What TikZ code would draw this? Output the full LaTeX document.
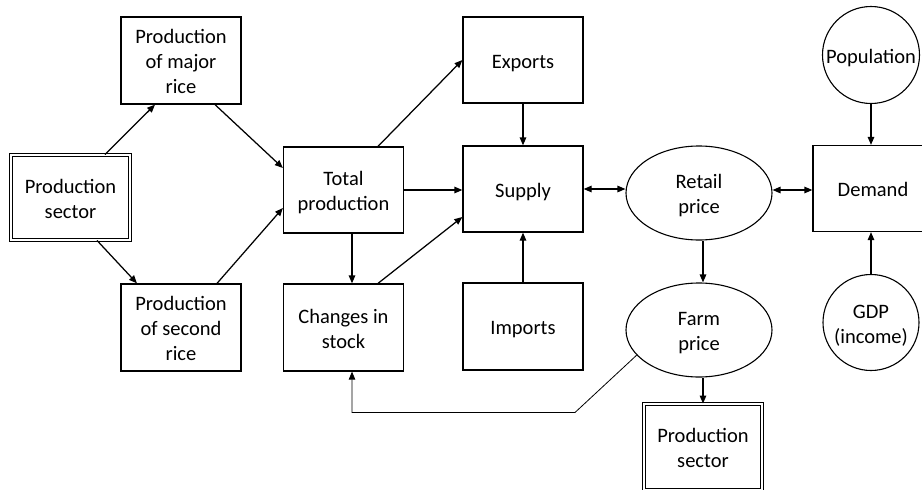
\documentclass[tikz,border=0pt]{standalone}
\usepackage{fontspec}
\setmainfont{Carlito}
\usetikzlibrary{shapes.geometric,arrows.meta}
\newcommand{\fs}{\rule{0pt}{22pt}}
\newcommand{\ls}{\rule[-6pt]{0pt}{6pt}}
\begin{document}
\begin{tikzpicture}[x=1pt,y=-1pt,
  every node/.style={font=\fontsize{20.5}{25}\selectfont, align=center, inner sep=0pt},
  box/.style={draw, line width=1.25pt, minimum width=120pt, minimum height=86pt},
  dbox/.style={draw, line width=0.9pt, double, double distance=2.2pt, minimum width=119pt, minimum height=85pt},
  ell/.style={draw, ellipse, line width=1.1pt, minimum width=146pt, minimum height=94pt},
  circ/.style={draw, circle, line width=1.1pt, minimum size=97pt},
  arr/.style={line width=1.25pt, -{Triangle[length=8pt,width=6.5pt]}},
  darr/.style={line width=1.25pt, {Triangle[length=8pt,width=6.5pt]}-{Triangle[length=8pt,width=6.5pt]}},
  fb/.style={line width=0.8pt, -{Triangle[length=8pt,width=6.5pt]}}]
\useasboundingbox (0,0) rectangle (922,490);
\clip (0,0) rectangle (922,490);
\node[box, minimum height=87pt] (maj) at (181,60.5) {\fs Production\\of major\\rice\ls};
\node[dbox] (psL) at (70.5,197.5) {\fs Production\\sector\ls};
\node[box] (tot) at (343.5,190) {\fs Total\\production\ls};
\node[box, minimum height=87pt] (sec) at (181,327.5) {\fs Production\\of second\\rice\ls};
\node[box, minimum height=87pt] (chg) at (343.5,327.5) {\fs Changes in\\stock\ls};
\node[box] (exp) at (523,60) {\fs Exports\ls};
\node[box] (sup) at (523,189) {\fs Supply\ls};
\node[box, minimum height=87pt] (imp) at (523,326.5) {\fs Imports\ls};
\node[ell] (ret) at (699,193) {\fs Retail\\price\ls};
\node[ell] (farm) at (699,330) {\fs Farm\\price\ls};
\node[box] (dem) at (873,188.5) {\fs Demand\ls};
\node[circ] (pop) at (871,55) {\fs Population\ls};
\node[circ, minimum size=96pt] (gdp) at (871,322.5) {\fs GDP\\(income)\ls};
\node[dbox, minimum width=118pt, minimum height=86pt] (psB) at (703,447) {\fs Production\\sector\ls};

\draw[arr] ([xshift=34.5pt]psL.north) -- ([xshift=-26pt]maj.south);
\draw[arr] ([xshift=26.5pt]psL.south) -- ([xshift=-44pt]sec.north);
\draw[arr] ([xshift=34pt]maj.south) -- ([yshift=22pt]tot.west);
\draw[arr] ([xshift=36pt]sec.north) -- ([yshift=-18pt]tot.west);
\draw[arr] ([xshift=34.5pt]tot.north) -- (exp.west);
\draw[arr] (tot.east) -- (tot.east -| sup.west);
\draw[arr] ([xshift=34.5pt]chg.north) -- ([yshift=-28pt]sup.west);
\draw[arr] ([xshift=8.5pt]tot.south) -- ([xshift=8.5pt]chg.north);
\draw[arr] (exp.south) -- (sup.north);
\draw[arr] (imp.north) -- (sup.south);
\draw[darr] (sup.east) -- (sup.east -| ret.west);
\draw[darr] ([yshift=3pt]ret.east) -- ([yshift=3pt]ret.east -| dem.west);
\draw[arr] (pop.south) -- (pop.south |- dem.north);
\draw[arr] (gdp.north) -- (gdp.north |- dem.south);
\draw[arr] ([xshift=4pt]ret.south) -- ([xshift=4pt]farm.north);
\draw[arr] ([xshift=4pt]farm.south) -- (psB.north);
\coordinate (bend) at (575,412.5);
\coordinate (chgin) at ([xshift=8.5pt]chg.south);
\draw[fb] (farm.202) -- (bend) -- (bend -| chgin) -- (chgin);
\end{tikzpicture}
\end{document}
